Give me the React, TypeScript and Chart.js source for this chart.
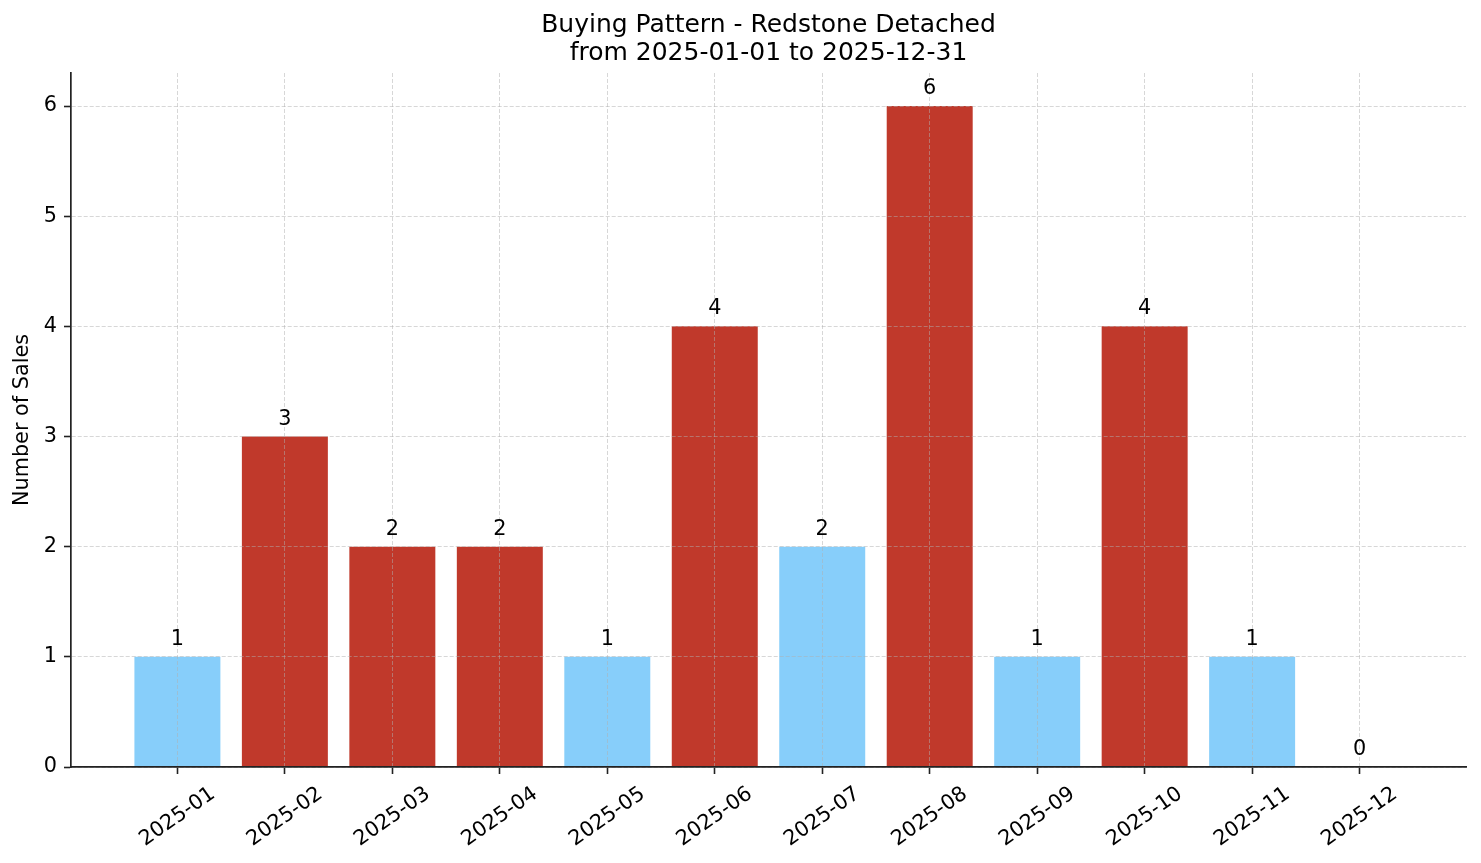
import { useEffect, useRef } from 'react'
import { Chart, registerables } from 'chart.js'

Chart.register(...registerables)

const months = [
  '2025-01', '2025-02', '2025-03', '2025-04', '2025-05', '2025-06',
  '2025-07', '2025-08', '2025-09', '2025-10', '2025-11', '2025-12',
]
const sales = [1, 3, 2, 2, 1, 4, 2, 6, 1, 4, 1, 0]
const barColors = [
  '#87cefa', '#c0392b', '#c0392b', '#c0392b', '#87cefa', '#c0392b',
  '#87cefa', '#c0392b', '#87cefa', '#c0392b', '#87cefa', '#87cefa',
]
const yTicks = [0, 1, 2, 3, 4, 5, 6]
const titleLines = ['Buying Pattern - Redstone Detached', 'from 2025-01-01 to 2025-12-31']

const FONT = 'DejaVu Sans'
const FS = 20.8
const SPINE = '#222'
const GRID = 'rgba(176,176,176,0.5)'

// value labels above bars and matplotlib-style rotated month labels
const textPlugin = {
  id: 'mplText',
  afterDraw(chart: any) {
    const { ctx } = chart
    const x = chart.scales.x
    const y = chart.scales.y
    ctx.save()
    ctx.fillStyle = '#000'
    ctx.font = `${FS}px "${FONT}"`
    ctx.textAlign = 'center'
    ctx.textBaseline = 'alphabetic'
    sales.forEach((v, i) => {
      ctx.fillText(String(v), x.getPixelForValue(i), y.getPixelForValue(v) - 12)
    })

    const ang = (35 * Math.PI) / 180
    const top = x.top + 15
    months.forEach((m, i) => {
      const w = ctx.measureText(m).width
      const h = FS * 1.16
      const bh = w * Math.sin(ang) + h * Math.cos(ang)
      ctx.save()
      ctx.translate(x.getPixelForValue(i), top + bh / 2)
      ctx.rotate(-ang)
      ctx.textAlign = 'center'
      ctx.textBaseline = 'middle'
      ctx.fillText(m, 0, 0)
      ctx.restore()
    })
    ctx.restore()
  },
}

export default function App() {
  const canvasRef = useRef<HTMLCanvasElement>(null)
  const chartRef = useRef<Chart | null>(null)

  useEffect(() => {
    document.body.style.margin = '0'
    if (!canvasRef.current) return
    Chart.defaults.font.family = FONT

    chartRef.current = new Chart(canvasRef.current, {
      type: 'bar',
      data: {
        datasets: [
          {
            label: 'Sales',
            data: sales.map((v, i) => ({ x: i, y: v })),
            backgroundColor: barColors,
            borderWidth: 0,
            barPercentage: 0.8,
            categoryPercentage: 1.0,
          },
        ],
      },
      options: {
        responsive: true,
        maintainAspectRatio: false,
        animation: false,
        events: [],
        layout: { padding: { left: 0, right: 15, top: 0, bottom: 0 } },
        plugins: {
          legend: { display: false },
          tooltip: { enabled: false },
          title: {
            display: true,
            text: titleLines,
            fullSize: false,
            color: '#000',
            font: { size: 25, weight: 'normal', lineHeight: 1.1 },
            padding: { top: 12, bottom: 6 },
          },
        },
        scales: {
          x: {
            type: 'linear',
            min: -0.99,
            max: 11.99,
            offset: false,
            afterBuildTicks: (s: any) => {
              s.ticks = months.map((_, i) => ({ value: i }))
            },
            afterFit: (s: any) => {
              s.height = 96
            },
            ticks: { display: false },
            grid: {
              color: GRID,
              lineWidth: 1,
              tickLength: 7,
              tickColor: SPINE,
              tickWidth: 1.6,
              offset: false,
              z: 1,
            },
            border: { display: true, color: SPINE, width: 1.7, dash: [4, 2], z: 2 },
          },
          y: {
            min: 0,
            max: 6.3,
            afterBuildTicks: (s: any) => {
              s.ticks = yTicks.map((v) => ({ value: v }))
            },
            afterFit: (s: any) => {
              s.width = 71
            },
            ticks: {
              color: '#000',
              font: { size: FS },
              padding: 7,
            },
            grid: {
              color: GRID,
              lineWidth: 1,
              tickLength: 7,
              tickColor: SPINE,
              tickWidth: 1.6,
              z: 1,
            },
            border: { display: true, color: SPINE, width: 1.7, dash: [4, 2], z: 2 },
            title: {
              display: true,
              text: 'Number of Sales',
              color: '#000',
              font: { size: FS, lineHeight: 1.2 },
              padding: { top: 10, bottom: 0 },
            },
          },
        },
      },
      plugins: [textPlugin],
    })

    return () => {
      chartRef.current?.destroy()
      chartRef.current = null
    }
  }, [])

  return (
    <div style={{ width: 1481, height: 863, position: 'relative', background: '#fff' }}>
      <canvas ref={canvasRef} />
    </div>
  )
}
